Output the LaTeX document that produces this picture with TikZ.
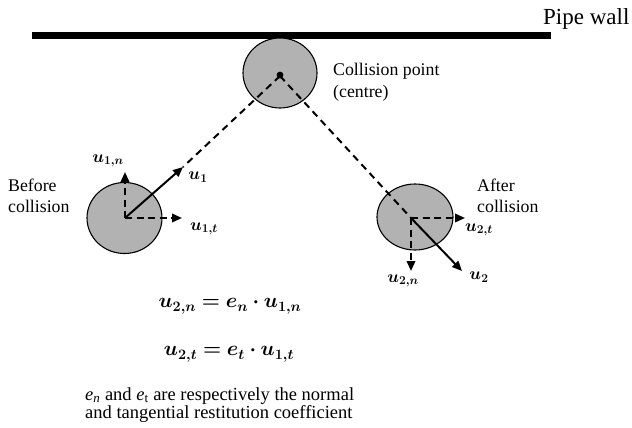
\documentclass[tikz,border=0pt]{standalone}
\usepackage{amsmath,bm}
\usepackage{fontspec}
\setmainfont{Liberation Serif}
\usetikzlibrary{arrows.meta}
\begin{document}
\begin{tikzpicture}[x=1pt,y=-1pt,
  ball/.style={draw=black,line width=1.1pt,fill=black!30},
  vec/.style={line width=2pt,-{Triangle[length=10pt,width=8.5pt]}},
  dvec/.style={line width=2pt,dash pattern=on 7pt off 4.5pt,-{Triangle[length=10pt,width=8.5pt]}},
  dline/.style={line width=2pt,dash pattern=on 7pt off 5pt},
  txt/.style={font=\fontsize{17.8}{21.5}\selectfont,inner sep=0pt,align=left},
  lab/.style={font=\fontsize{18.5}{20}\selectfont,inner sep=0pt},
  eq/.style={font=\fontsize{20.5}{24}\selectfont,inner sep=0pt}]
\useasboundingbox (0,0) rectangle (632,428);
% wall
\fill[black] (32,32) rectangle (551,39);
\node[anchor=base west,inner sep=0pt,font=\fontsize{23}{26}\selectfont] (wall) at (543,25) {Pipe wall};
% balls
\draw[ball] (280,73) ellipse [x radius=37,y radius=35];
\draw[ball] (124.5,218) ellipse [x radius=37.5,y radius=35.5];
\draw[ball] (415,217) ellipse [x radius=38,y radius=33];
\coordinate (cp) at (280,76);
\fill (280,75) circle (3.4);
\coordinate (c1) at (125,218);
\coordinate (c2) at (411,218);
\coordinate (t1) at (183,167);
\coordinate (t1n) at (125,172);
\coordinate (t1t) at (182,218);
\coordinate (t2) at (462,271);
\coordinate (t2n) at (411,271);
\coordinate (t2t) at (465,218);
% trajectories
\draw[dline] (cp) -- (t1);
\draw[dline] (cp) -- (c2);
% vectors before
\draw[vec] (c1) -- (t1);
\draw[dvec] (c1) -- (t1n);
\draw[dvec] (c1) -- (t1t);
% vectors after
\draw[vec] (c2) -- (t2);
\draw[dvec] (c2) -- (t2n);
\draw[dvec] (c2) -- (t2t);
% labels
\node[lab] (l1) at (198,177) {$\bm{u_1}$};
\node[lab] (l1n) at (108,161) {$\bm{u_{1,n}}$};
\node[lab] (l1t) at (204,229) {$\bm{u_{1,t}}$};
\node[lab] (l2) at (479,277) {$\bm{u_2}$};
\node[lab] (l2n) at (403,281) {$\bm{u_{2,n}}$};
\node[lab] (l2t) at (479,230) {$\bm{u_{2,t}}$};
% texts
\node[txt,anchor=west] (before) at (8,196) {Before\\collision};
\node[txt,anchor=west] (after) at (477,196) {After\\collision};
\node[txt,anchor=west] (cpt) at (333,82) {Collision point\\(centre)};
% equations
\node[eq] (eq1) at (230,306) {$\bm{u_{2,n} = e_n \cdot u_{1,n}}$};
\node[eq] (eq2) at (229,354) {$\bm{u_{2,t} = e_t \cdot u_{1,t}}$};
\node[txt,anchor=west,font=\fontsize{18.5}{18.5}\selectfont] (note) at (85,405) {\textit{e}\textsubscript{\textit{n}} and \textit{e}\textsubscript{t} are respectively the normal\\and tangential restitution coefficient};
\end{tikzpicture}
\end{document}
